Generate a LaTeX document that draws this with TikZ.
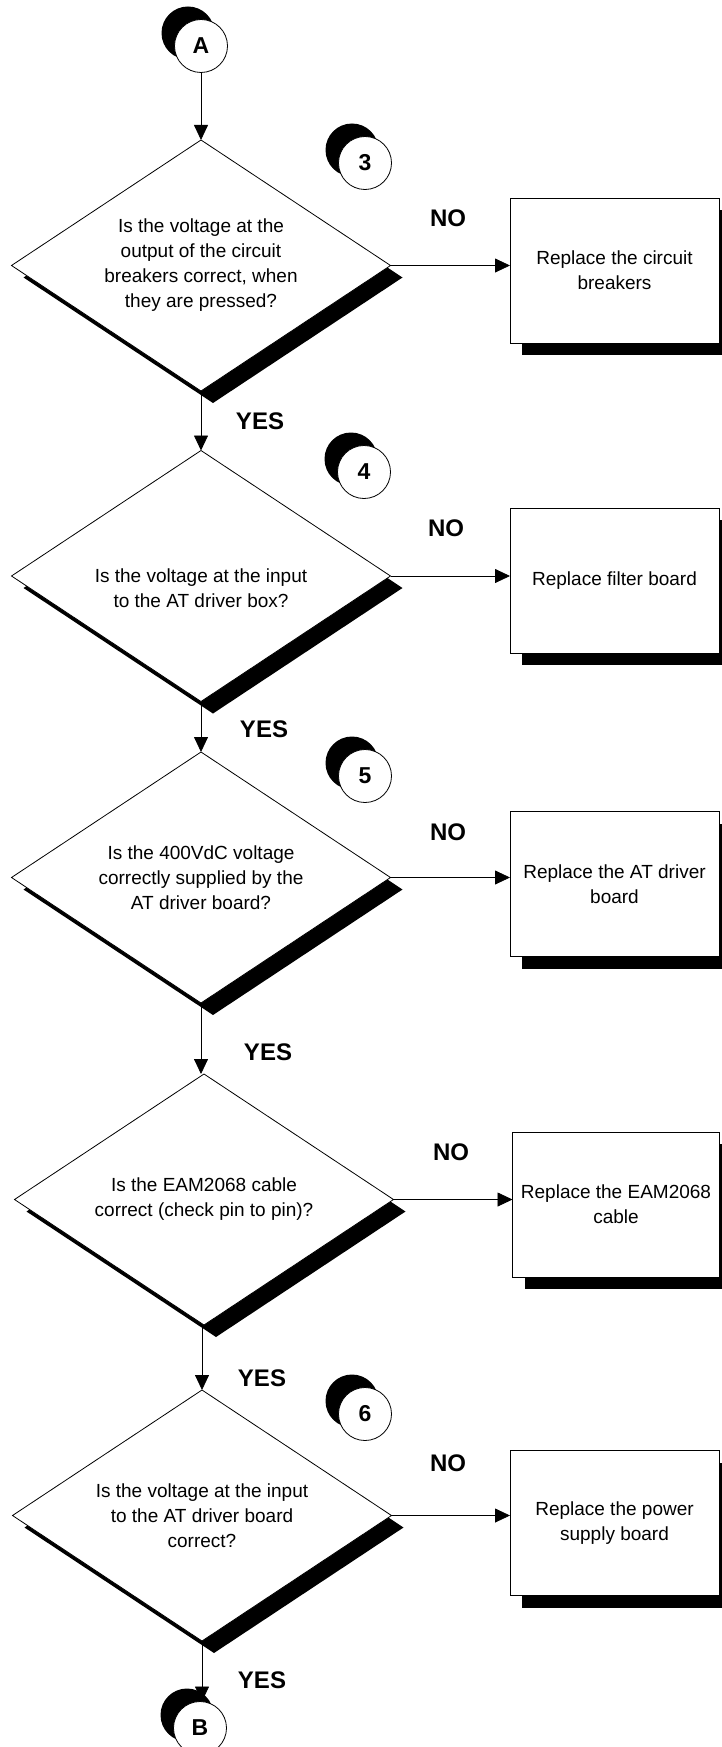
\documentclass[tikz,border=0pt]{standalone}
\usepackage{fontspec}
\setmainfont{Liberation Sans}
\usetikzlibrary{shapes.geometric,shadows,arrows.meta}

\begin{document}
\begin{tikzpicture}[x=1pt,y=-1pt,
  every node/.style={inner sep=0pt, outer sep=0pt},
  blackshadow/.style={drop shadow={shadow xshift=12pt, shadow yshift=-12pt, opacity=1, fill=black}},
  question/.style={diamond, draw, fill=white, line width=0.8pt,
    minimum width=379pt, minimum height=251pt, blackshadow},
  qtext/.style={align=center, font=\fontsize{19}{25}\selectfont},
  action/.style={rectangle, draw, fill=white, line width=0.8pt,
    minimum width=209pt, minimum height=145pt, align=center,
    font=\fontsize{19}{25}\selectfont, blackshadow},
  marker/.style={circle, draw, fill=white, line width=0.8pt, minimum size=53pt,
    font=\fontsize{23}{23}\selectfont\bfseries,
    drop shadow={shadow xshift=-13pt, shadow yshift=13pt, opacity=1, fill=black}},
  answer/.style={font=\fontsize{24}{24}\selectfont\bfseries},
  flow/.style={line width=0.8pt, -{Triangle[length=15pt, width=14pt]}}
]
\useasboundingbox (0,0) rectangle (721,1747);

% entry connector
\node[marker] (ca) at (201,46) {A};

% step 3: circuit breakers
\node[marker] (m3) at (365,163) {3};
\node[question] (d1) at (201,265.5) {};
\node[qtext] (q1) at (d1.center) {Is the voltage at the\\output of the circuit\\breakers correct, when\\they are pressed?};
\node[action] (b1) at (614.5,270.5) {Replace the circuit\\breakers};

% step 4: filter board
\node[marker] (m4) at (364,472) {4};
\node[question] (d2) at (201,576) {};
\node[qtext] (q2) at (201,588) {Is the voltage at the input\\to the AT driver box?};
\node[action] (b2) at (614.5,580.5) {Replace filter board};

% step 5: AT driver board
\node[marker] (m5) at (365,776) {5};
\node[question] (d3) at (201,877.5) {};
\node[qtext] (q3) at (d3.center) {Is the 400VdC voltage\\correctly supplied by the\\AT driver board?};
\node[action] (b3) at (614.5,884) {Replace the AT driver\\board};

% cable check
\node[question] (d4) at (204,1199.5) {};
\node[qtext] (q4) at (d4.center) {Is the EAM2068 cable\\correct (check pin to pin)?};
\node[action, minimum width=207pt] (b4) at (616,1204.5) {Replace the EAM2068\\cable};

% step 6: power supply board
\node[marker] (m6) at (365,1414) {6};
\node[question] (d5) at (202,1515.5) {};
\node[qtext] (q5) at (d5.center) {Is the voltage at the input\\to the AT driver board\\correct?};
\node[action] (b5) at (614.5,1523) {Replace the power\\supply board};

% exit connector
\node[marker] (cb) at (200,1728) {B};

% answer labels
\node[answer] (y1) at (260,421) {YES};
\node[answer] (y2) at (264,729) {YES};
\node[answer] (y3) at (268,1052) {YES};
\node[answer] (y4) at (262,1378) {YES};
\node[answer] (y5) at (262,1680) {YES};
\node[answer] (n1) at (448,218) {NO};
\node[answer] (n2) at (446,528) {NO};
\node[answer] (n3) at (448,832) {NO};
\node[answer] (n4) at (451,1152) {NO};
\node[answer] (n5) at (448,1463) {NO};

% main flow
\draw[flow] (ca.south) -- (d1.north);
\draw[flow] (d1.south) -- (d2.north);
\draw[flow] (d2.south) -- (d3.north);
\draw[flow] (d3.south) -- (d3.south |- d4.north);
\draw[flow] (d4.south -| d5.north) -- (d5.north);
\draw[flow] (d5.south) -- (d5.south |- cb.north);

% NO branches
\draw[flow] (d1.east) -- (d1.east -| b1.west);
\draw[flow] (d2.east) -- (d2.east -| b2.west);
\draw[flow] (d3.east) -- (d3.east -| b3.west);
\draw[flow] (d4.east) -- (d4.east -| b4.west);
\draw[flow] (d5.east) -- (d5.east -| b5.west);
\end{tikzpicture}
\end{document}
